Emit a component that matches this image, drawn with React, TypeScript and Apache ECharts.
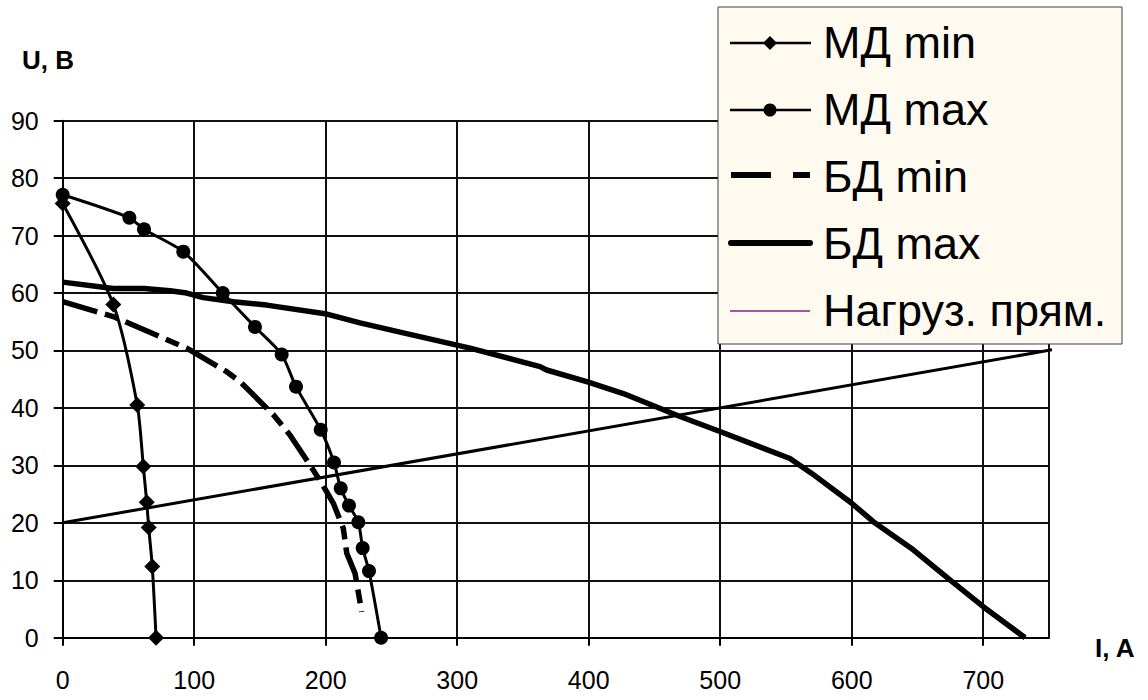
import React, { useEffect, useRef } from 'react';
import * as echarts from 'echarts';

const seriesNames = ['МД min', 'МД max', 'БД min', 'БД max', 'Нагруз. прям.'];

const mdMinI = [0, 38.5, 56.7, 61.3, 63.9, 65.4, 68.1, 71];
const mdMinU = [75.6, 58, 40.5, 29.8, 23.6, 19.2, 12.4, 0];

const mdMaxI = [0, 50.7, 61.8, 91.7, 121.7, 146.2, 166.5, 177.4, 196.2, 206.3, 211.4, 217.7, 224.8, 228.1, 232.9, 242.1];
const mdMaxU = [77.1, 73.1, 71.1, 67.2, 60.0, 54.1, 49.3, 43.7, 36.2, 30.5, 26.0, 23.0, 20.1, 15.6, 11.6, 0];

const bdMinI = [0, 38.5, 94.3, 124.7, 134.8, 160.2, 172.8, 185.6, 196.9, 205.8, 213.4, 216, 222.3, 227.4];
const bdMinU = [58.5, 55.9, 50.4, 46.3, 44.6, 38.8, 35.3, 30.9, 26.9, 23.4, 19.0, 14.7, 11.2, 4.5];

const bdMaxI = [0, 38.5, 61.8, 81.6, 94.3, 106.9, 129.7, 155.1, 199.5, 226.1, 256.5, 309.7, 363, 368, 399.7, 426.3, 469.4, 499.8, 553, 569.6, 600, 616.4, 646.8, 673.5, 700, 731.8];
const bdMaxU = [61.9, 60.8, 60.8, 60.4, 60.0, 59.2, 58.5, 57.9, 56.4, 54.8, 53.2, 50.4, 47.2, 46.6, 44.5, 42.5, 38.5, 35.9, 31.2, 28.6, 23.4, 20.2, 15.3, 10.3, 5.4, 0];

const loadI = [0, 757];
const loadU = [20, 50.3];

const xAxisName = 'I, A';
const yAxisName = 'U, B';

const FONT = '"Liberation Sans", Arial, sans-serif';

const zip = (xs: number[], ys: number[]) => xs.map((x, i) => [x, ys[i]]);

function buildLegend() {
  const els: any[] = [];
  const boxX = 718, boxY = 7, boxW = 404, boxH = 337;
  els.push({
    type: 'rect', z: 100,
    shape: { x: boxX, y: boxY, width: boxW, height: boxH },
    style: { fill: '#FFFAF0', stroke: '#404040', lineWidth: 1 },
  });
  const y0 = 42, gap = 67;
  const ix1 = 730, ix2 = 811, icx = 770, tx = 823;
  seriesNames.forEach((name, i) => {
    const y = y0 + i * gap;
    if (i === 0) {
      els.push({ type: 'line', z: 101, shape: { x1: ix1, y1: y + 1, x2: ix2, y2: y + 1 }, style: { stroke: '#000', lineWidth: 2.5 } });
      els.push({ type: 'polygon', z: 102, shape: { points: [[icx, y - 6], [icx + 7, y + 1], [icx, y + 8], [icx - 7, y + 1]] }, style: { fill: '#000' } });
    } else if (i === 1) {
      els.push({ type: 'line', z: 101, shape: { x1: ix1, y1: y + 1, x2: ix2, y2: y + 1 }, style: { stroke: '#000', lineWidth: 2.5 } });
      els.push({ type: 'circle', z: 102, shape: { cx: icx, cy: y + 1, r: 6.5 }, style: { fill: '#000' } });
    } else if (i === 2) {
      els.push({ type: 'line', z: 101, shape: { x1: 731, y1: y - 1, x2: 771, y2: y - 1 }, style: { stroke: '#000', lineWidth: 6 } });
      els.push({ type: 'line', z: 101, shape: { x1: 793, y1: y - 1, x2: 810, y2: y - 1 }, style: { stroke: '#000', lineWidth: 6 } });
    } else if (i === 3) {
      els.push({ type: 'line', z: 101, shape: { x1: 731, y1: y, x2: 810, y2: y }, style: { stroke: '#000', lineWidth: 6, lineCap: 'round' } });
    } else {
      els.push({ type: 'line', z: 101, shape: { x1: ix1, y1: y + 1, x2: 810, y2: y + 1 }, style: { stroke: '#8a1e8a', lineWidth: 1.5 } });
    }
    els.push({
      type: 'text', z: 103, x: tx, y: y,
      style: { text: name, fontSize: 45, fontFamily: FONT, fill: '#000', align: 'left', verticalAlign: 'middle' },
    });
  });
  els.push({
    type: 'text', z: 103, x: 22, y: 60,
    style: { text: yAxisName, fontSize: 26, fontWeight: 'bold', fontFamily: FONT, fill: '#000', align: 'left', verticalAlign: 'middle' },
  });
  els.push({
    type: 'text', z: 103, x: 1095, y: 648,
    style: { text: xAxisName, fontSize: 26, fontWeight: 'bold', fontFamily: FONT, fill: '#000', align: 'left', verticalAlign: 'middle' },
  });
  return els;
}

export default function App() {
  const ref = useRef<HTMLDivElement>(null);
  useEffect(() => {
    const chart = echarts.init(ref.current!, null, { renderer: 'svg' });
    const option: any = {
      animation: false,
      backgroundColor: '#ffffff',
      textStyle: { fontFamily: FONT },
      grid: {
        left: 62.7, top: 120.7, right: 99, bottom: 62.3,
        show: true, borderColor: '#808080', borderWidth: 1, backgroundColor: '#fff',
      },
      xAxis: {
        type: 'value', min: 0, max: 750, interval: 100,
        axisLine: { show: true, onZero: false, lineStyle: { color: '#000', width: 2 } },
        axisTick: { show: true, length: 8, lineStyle: { color: '#000', width: 2 } },
        axisLabel: { fontSize: 25, color: '#000', margin: 30, fontFamily: FONT, showMaxLabel: false },
        splitLine: { show: true, lineStyle: { color: '#111', width: 2 } },
      },
      yAxis: {
        type: 'value', min: 0, max: 90, interval: 10,
        axisLine: { show: true, onZero: false, lineStyle: { color: '#000', width: 2 } },
        axisTick: { show: true, length: 9, lineStyle: { color: '#000', width: 2 } },
        axisLabel: { fontSize: 25, color: '#000', margin: 24, fontFamily: FONT },
        splitLine: { show: true, lineStyle: { color: '#111', width: 2 } },
      },
      graphic: { elements: buildLegend() },
      series: [
        {
          name: seriesNames[4], type: 'line', data: zip(loadI, loadU), clip: false,
          symbol: 'none', lineStyle: { color: '#000', width: 3 }, z: 2,
        },
        {
          name: seriesNames[3], type: 'line', data: zip(bdMaxI, bdMaxU),
          symbol: 'none', lineStyle: { color: '#000', width: 5.5 }, z: 3,
        },
        {
          name: seriesNames[2], type: 'line', data: zip(bdMinI, bdMinU),
          symbol: 'none', lineStyle: { color: '#000', width: 5.5, type: [36, 8, 14, 8] }, z: 3,
        },
        {
          name: seriesNames[0], type: 'line', data: zip(mdMinI, mdMinU), smooth: 0.25,
          symbol: 'diamond', symbolSize: 16, itemStyle: { color: '#000' },
          lineStyle: { color: '#000', width: 3 }, z: 4,
        },
        {
          name: seriesNames[1], type: 'line', data: zip(mdMaxI, mdMaxU), smooth: 0.25,
          symbol: 'circle', symbolSize: 14, itemStyle: { color: '#000' },
          lineStyle: { color: '#000', width: 3 }, z: 4,
        },
      ],
    };
    chart.setOption(option);
    return () => chart.dispose();
  }, []);
  return (
    <div
      ref={ref}
      style={{ position: 'absolute', left: 0, top: 0, width: 1148, height: 700, background: '#fff' }}
    />
  );
}
